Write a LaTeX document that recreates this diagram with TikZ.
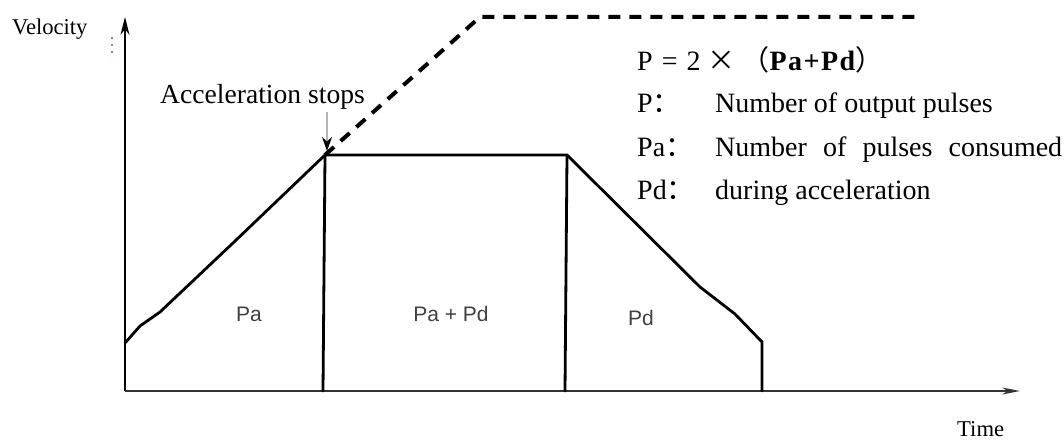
\documentclass[tikz,border=0pt]{standalone}
\usepackage{fontspec}
\setmainfont{Liberation Serif}
\newfontfamily\cjk{Noto Sans CJK SC}
\newfontfamily\labfont{Liberation Sans}
\usetikzlibrary{arrows.meta}
\begin{document}
\begin{tikzpicture}[x=1pt,y=-1pt,
  prof/.style={line width=2.8pt, line join=round, line cap=round},
  axisline/.style={line width=2pt, black!80},
  dashline/.style={line width=4pt, dash pattern=on 12pt off 9pt},
  txt/.style={anchor=base west, inner sep=0pt, font=\fontsize{22.6}{26}\selectfont},
  legend/.style={anchor=base west, inner sep=0pt, font=\fontsize{28}{32}\selectfont},
  arealabel/.style={anchor=center, inner sep=0pt, text=black!75, font=\labfont\fontsize{21}{24}\selectfont}]
\useasboundingbox (0,0) rectangle (1064,443);
% key points
\coordinate (O) at (125,391);
\coordinate (ytop) at (125,17);
\coordinate (ymid) at (125,105);
\coordinate (xend) at (1020,391);
\coordinate (start) at (125,343);
\coordinate (peak) at (325,155);
\coordinate (peakfoot) at (323,391);
\coordinate (dend) at (567,155);
\coordinate (dendfoot) at (565,391);
\coordinate (knee) at (762,342);
\coordinate (stopfoot) at (762,391);
\coordinate (dturn) at (480,17);
\coordinate (dfar) at (920,17);
\coordinate (arrtop) at (327,112);
\coordinate (arrtip) at (327,151);
% axes
\draw[line width=2.6pt] (O) -- (ymid);
\draw[line width=1.3pt, -{Stealth[length=18pt,width=9pt]}] (ymid) -- (ytop);
\draw[axisline, -{Stealth[length=18pt,width=7pt]}] (O) -- (xend);
\draw[black!45, line width=1.2pt, dash pattern=on 2pt off 5pt] (112,37) -- (112,58);
% profile
\draw[prof] (start) -- (140,326) -- (160,312) -- (233,243) -- (peak) -- (dend)
  -- (700,287) -- (735,314) -- (knee) -- (stopfoot);
\draw[prof] (peak) -- (peakfoot);
\draw[prof] (dend) -- (dendfoot);
% dashed extension
\draw[dashline] (peak) -- (dturn) -- (dfar);
% acceleration stops arrow
\draw[black!30, line width=1.5pt, -{Stealth[length=14pt,width=10pt,black]}] (arrtop) -- (arrtip);
% texts
\node[txt] (vel) at (12,35) {Velocity};
\node[txt] (time) at (957,436) {Time};
\node[anchor=base west, inner sep=0pt, font=\fontsize{27.6}{32}\selectfont] (acc) at (160,104) {Acceleration stops};
\node[arealabel] (pa) at (249,314) {Pa};
\node[arealabel] (papd) at (451,314) {Pa + Pd};
\node[arealabel] (pd) at (641,318) {Pd};
% legend
\node[legend] (eq) at (637,71) {P\hspace{9pt}=\hspace{9pt}2\hspace{7pt}{\cjk ×}\hspace{6pt}{\cjk （}{\bfseries P\hspace{1.5pt}a\hspace{1.5pt}+\hspace{1.5pt}P\hspace{1.5pt}d}{\cjk ）}};
\node[legend] (l1) at (637,113) {P{\cjk ：}};
\node[legend] (l2) at (637,157) {Pa{\cjk ：}};
\node[legend] (l3) at (637,200) {Pd{\cjk ：}};
\node[legend] (t1) at (715,113) {Number of output pulses};
\node[legend] (t2) at (715,157) {\makebox[347pt][s]{Number of pulses consumed}};
\node[legend] (t3) at (715,200) {during acceleration};
\end{tikzpicture}
\end{document}
